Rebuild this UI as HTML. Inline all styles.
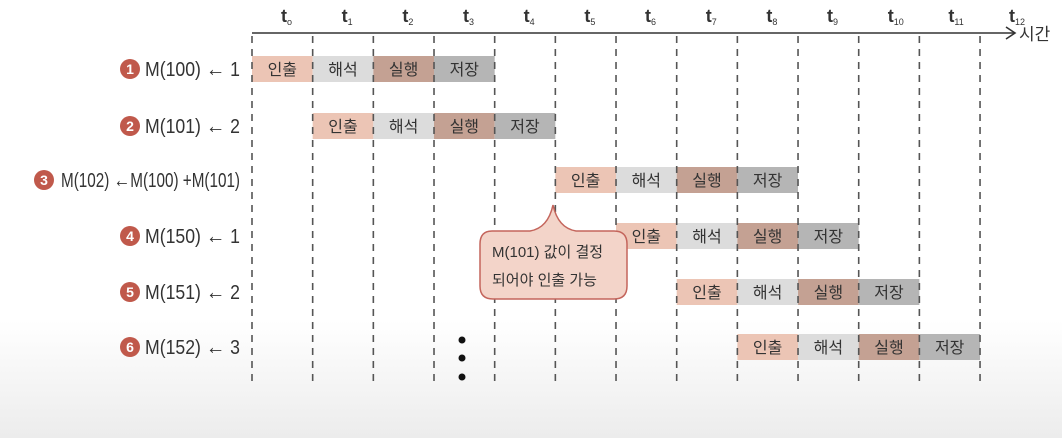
<!DOCTYPE html>
<html><head><meta charset="utf-8">
<style>
html,body{margin:0;padding:0;}
body{width:1062px;height:438px;overflow:hidden;background:linear-gradient(#fff 0,#fff 320px,#ececec 438px);}
svg{display:block;}
text{font-family:"Liberation Sans","Noto Sans CJK KR","NanumGothic",sans-serif;}
</style></head><body>
<svg width="1062" height="438" viewBox="0 0 1062 438" xmlns="http://www.w3.org/2000/svg">
<g id="bars"></g>
<g id="grid" stroke="#555" stroke-width="1.6" stroke-dasharray="7,6"></g>
<line x1="252" y1="33" x2="1014" y2="33" stroke="#333" stroke-width="1.6"/>
<polyline points="1006,27 1015,33 1006,39" fill="none" stroke="#333" stroke-width="1.6"/>
<text x="1019" y="40" font-size="17" fill="#333">시간</text>
<g id="tl" font-size="18" font-weight="bold" fill="#333"></g>
<g id="labels" fill="#333"></g>
<path d="M492,231 L530,231 Q548,228 553,205 Q558,228 576,231 L614,231 Q627,231 627,244 L627,286 Q627,299 614,299 L493,299 Q480,299 480,286 L480,244 Q480,231 492,231 Z" fill="#f3d4c9" stroke="#c4655c" stroke-width="1.5"/>
<text x="492" y="257" font-size="15" fill="#333">M(101) 값이 결정</text>
<text x="492" y="285" font-size="15" fill="#333">되어야 인출 가능</text>
<circle cx="462" cy="340" r="3.5" fill="#111"/>
<circle cx="462" cy="358" r="3.5" fill="#111"/>
<circle cx="462" cy="377" r="3.5" fill="#111"/>
</svg>
<script>
const ns="http://www.w3.org/2000/svg";
const xs=[];for(let i=0;i<=12;i++)xs.push(252+i*60.67);
const g=document.getElementById('grid');
xs.forEach(x=>{const l=document.createElementNS(ns,'line');l.setAttribute('x1',x);l.setAttribute('x2',x);l.setAttribute('y1',36);l.setAttribute('y2',386);g.appendChild(l);});
const tl=document.getElementById('tl');
const subs=['o','1','2','3','4','5','6','7','8','9','10','11','12'];
for(let i=0;i<13;i++){const t=document.createElementNS(ns,'text');t.setAttribute('x',xs[i]+29);t.setAttribute('y',22);t.innerHTML='t<tspan font-size="9" font-weight="normal" dy="3">'+subs[i]+'</tspan>';tl.appendChild(t);}
const rows=[69,126,180,236,292,347];
const starts=[0,1,5,6,7,8];
const cols=['#ecc5b5','#dcdcdc','#c4a193','#b5b5b5'];
const names=['인출','해석','실행','저장'];
const b=document.getElementById('bars');
rows.forEach((y,r)=>{for(let k=0;k<4;k++){const x=xs[starts[r]+k];const rc=document.createElementNS(ns,'rect');rc.setAttribute('x',x);rc.setAttribute('y',y-13);rc.setAttribute('width',60.67);rc.setAttribute('height',26);rc.setAttribute('fill',cols[k]);b.appendChild(rc);const t=document.createElementNS(ns,'text');t.setAttribute('x',x+30.3);t.setAttribute('y',y+6);t.setAttribute('text-anchor','middle');t.setAttribute('font-size','16');t.setAttribute('fill','#333');t.textContent=names[k];b.appendChild(t);}});
const lab=document.getElementById('labels');
const L=[['M(100) <tspan font-size="22" font-weight="bold">←</tspan> 1',130,145],['M(101) <tspan font-size="22" font-weight="bold">←</tspan> 2',130,145],['M(102) <tspan font-size="22" font-weight="bold">←</tspan>M(100) +M(101)',44,61],['M(150) <tspan font-size="22" font-weight="bold">←</tspan> 1',130,145],['M(151) <tspan font-size="22" font-weight="bold">←</tspan> 2',130,145],['M(152) <tspan font-size="22" font-weight="bold">←</tspan> 3',130,145]];
L.forEach((d,i)=>{const y=rows[i];const c=document.createElementNS(ns,'circle');c.setAttribute('cx',d[1]);c.setAttribute('cy',y);c.setAttribute('r',10);c.setAttribute('fill','#c0594b');lab.appendChild(c);
const n=document.createElementNS(ns,'text');n.setAttribute('x',d[1]);n.setAttribute('y',y+5);n.setAttribute('text-anchor','middle');n.setAttribute('font-size','14');n.setAttribute('font-weight','bold');n.setAttribute('fill','#fff');n.textContent=i+1;lab.appendChild(n);
const t=document.createElementNS(ns,'text');t.setAttribute('x',d[2]);t.setAttribute('y',y+7);t.setAttribute('font-size','20');t.setAttribute('textLength',240-d[2]);t.setAttribute('lengthAdjust','spacingAndGlyphs');t.innerHTML=d[0];lab.appendChild(t);});
</script>
</body></html>
